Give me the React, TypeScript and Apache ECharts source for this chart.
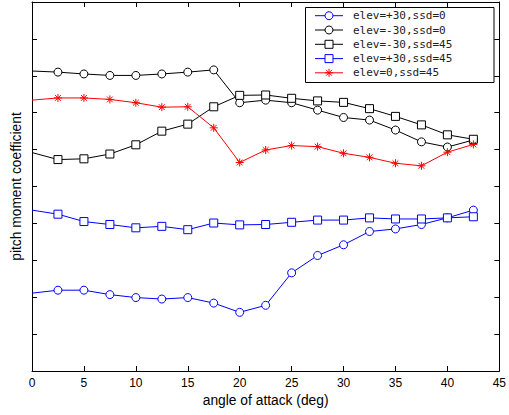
import React, { useEffect, useRef } from "react";
import * as echarts from "echarts";

const angles = [0, 2.5, 5, 7.5, 10, 12.5, 15, 17.5, 20, 22.5, 25, 27.5, 30, 32.5, 35, 37.5, 40, 42.5];

const seriesNames = [
  "elev=+30,ssd=0",
  "elev=-30,ssd=0",
  "elev=-30,ssd=45",
  "elev=+30,ssd=45",
  "elev=0,ssd=45",
];
const seriesColors = ["#0000ff", "#000000", "#000000", "#0000ff", "#ff0000"];
const seriesMarkers = ["circle", "circle", "square", "square", "star"];

const elevP30ssd0 = [2.11, 2.19, 2.19, 2.07, 1.99, 1.95, 1.99, 1.84, 1.59, 1.78, 2.66, 3.13, 3.42, 3.78, 3.85, 3.97, 4.15, 4.36];
const elevM30ssd0 = [8.13, 8.1, 8.05, 8.01, 8.01, 8.05, 8.1, 8.16, 7.27, 7.34, 7.27, 7.07, 6.87, 6.8, 6.53, 6.21, 6.07, 6.26];
const elevM30ssd45 = [5.92, 5.73, 5.75, 5.88, 6.13, 6.5, 6.69, 7.16, 7.47, 7.48, 7.39, 7.32, 7.28, 7.11, 6.9, 6.67, 6.4, 6.28];
const elevP30ssd45 = [4.36, 4.25, 4.05, 3.97, 3.88, 3.92, 3.83, 4.01, 3.96, 3.97, 4.03, 4.09, 4.09, 4.15, 4.12, 4.12, 4.15, 4.18];
const elev0ssd45 = [7.34, 7.4, 7.4, 7.36, 7.27, 7.15, 7.16, 6.59, 5.65, 5.99, 6.11, 6.08, 5.9, 5.79, 5.63, 5.56, 5.93, 6.14];

const seriesValues = [elevP30ssd0, elevM30ssd0, elevM30ssd45, elevP30ssd45, elev0ssd45];

const xTicks = { min: 0, max: 45, interval: 5 };
const yTicks = { min: 0, max: 10, interval: 1 };

const STAR = "path://M0,-4L0,4M-4,0L4,0M-2.9,-2.9L2.9,2.9M-2.9,2.9L2.9,-2.9";
const symbolOf: Record<string, string> = { circle: "circle", square: "rect", star: STAR };

function makeData(ys: number[]) {
  return angles.map((a, i) =>
    i === 0 ? { value: [a, ys[i]], symbol: "none" } : { value: [a, ys[i]] }
  );
}

function legendMarker(kind: string, cx: number, cy: number, color: string): any {
  if (kind === "circle") {
    return { type: "circle", shape: { cx, cy, r: 4 }, style: { fill: "#fff", stroke: color, lineWidth: 1 } };
  }
  if (kind === "square") {
    return { type: "rect", shape: { x: cx - 4, y: cy - 4, width: 8, height: 8 }, style: { fill: "#fff", stroke: color, lineWidth: 1 } };
  }
  const d = 2.9;
  const seg = (x1: number, y1: number, x2: number, y2: number) => ({
    type: "line",
    shape: { x1: cx + x1, y1: cy + y1, x2: cx + x2, y2: cy + y2 },
    style: { stroke: color, lineWidth: 1 },
  });
  return { type: "group", children: [seg(0, -4, 0, 4), seg(-4, 0, 4, 0), seg(-d, -d, d, d), seg(-d, d, d, -d)] };
}

export default function App() {
  const ref = useRef<HTMLDivElement>(null);
  useEffect(() => {
    if (!ref.current) return;
    const chart = echarts.init(ref.current, undefined, { renderer: "svg" });
    const font = "Liberation Sans, Arial, sans-serif";
    const axisCommon = {
      axisLine: { show: true, onZero: false, lineStyle: { color: "#000", width: 1 } },
      axisTick: { show: true, inside: true, length: 5, lineStyle: { color: "#000" } },
      splitLine: { show: false },
    };

    const legendItems: any[] = [];
    const rowY = [15.7, 30, 44.3, 58.6, 72.8];
    seriesNames.forEach((name, i) => {
      const y = rowY[i];
      const c = seriesColors[i];
      legendItems.push({ type: "line", shape: { x1: 315, y1: y, x2: 343, y2: y }, style: { stroke: c, lineWidth: 1 } });
      legendItems.push(legendMarker(seriesMarkers[i], 329, y, c));
      legendItems.push({
        type: "text",
        x: 353,
        y,
        style: { text: name, fill: "#222", font: "11px 'DejaVu Sans Mono', monospace", verticalAlign: "middle", align: "left" },
      });
    });

    chart.setOption({
      animation: false,
      backgroundColor: "#fff",
      grid: { left: 32, right: 7, top: 2, bottom: 44, containLabel: false },
      xAxis: [
        {
          type: "value",
          ...xTicks,
          position: "bottom",
          ...axisCommon,
          axisLabel: { color: "#000", fontSize: 12, fontFamily: font, margin: 6 },
          name: "angle of attack (deg)",
          nameLocation: "middle",
          nameGap: 22,
          nameTextStyle: { color: "#000", fontSize: 13.8, fontFamily: font },
        },
        {
          type: "value",
          ...xTicks,
          position: "top",
          ...axisCommon,
          axisLabel: { show: false },
        },
      ],
      yAxis: [
        {
          type: "value",
          ...yTicks,
          position: "left",
          ...axisCommon,
          axisLabel: { show: false },
          name: "pitch moment coefficient",
          nameLocation: "middle",
          nameGap: 9,
          nameTextStyle: { color: "#000", fontSize: 13.8, fontFamily: font },
        },
        {
          type: "value",
          ...yTicks,
          position: "right",
          ...axisCommon,
          axisLabel: { show: false },
        },
      ],
      graphic: [
        {
          type: "group",
          z: 10,
          children: [
            {
              type: "rect",
              shape: { x: 305.5, y: 7.5, width: 188.5, height: 75 },
              style: { fill: "#fff", stroke: "#000", lineWidth: 1 },
            },
            ...legendItems,
          ],
        },
      ],
      series: seriesNames.map((name, i) => ({
        name,
        type: "line",
        data: makeData(seriesValues[i]),
        symbol: symbolOf[seriesMarkers[i]],
        symbolSize: 8,
        showSymbol: true,
        clip: true,
        lineStyle: { color: seriesColors[i], width: 1 },
        itemStyle: { color: "#ffffff", borderColor: seriesColors[i], borderWidth: 1 },
        emphasis: { disabled: true },
        z: 3,
      })),
    });
    return () => chart.dispose();
  }, []);
  return (
    <div
      ref={ref}
      style={{ position: "fixed", left: 0, top: 0, width: 509, height: 415 }}
    />
  );
}
